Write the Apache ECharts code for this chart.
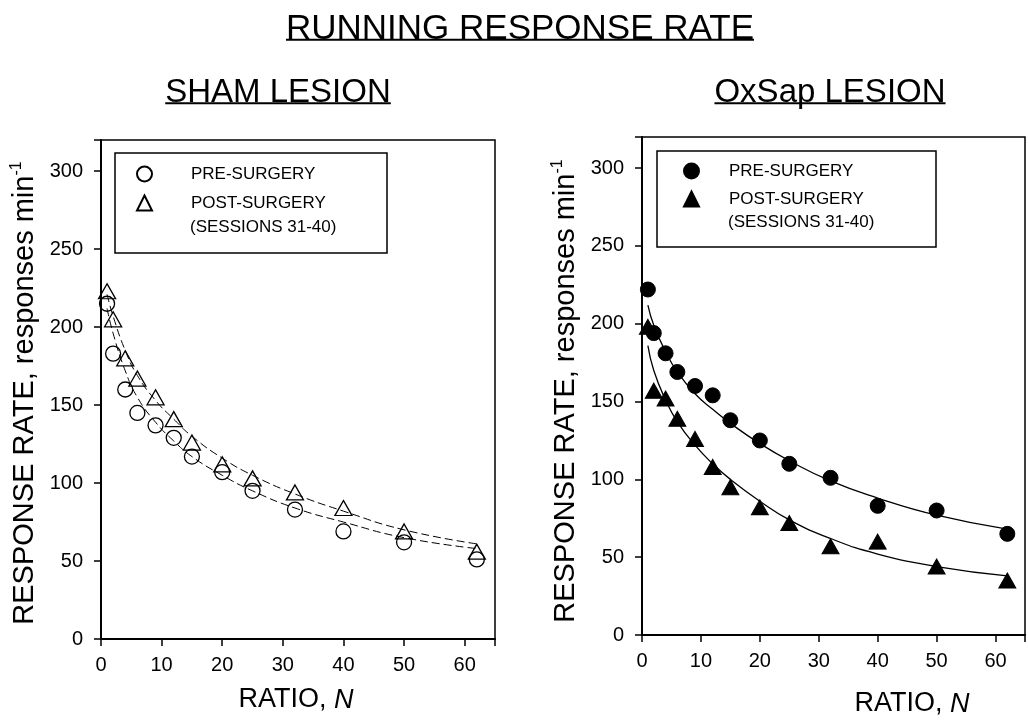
<!DOCTYPE html>
<html>
<head>
<meta charset="utf-8">
<script src="https://cdn.jsdelivr.net/npm/echarts@6/dist/echarts.min.js"></script>
<style>
  html, body { margin: 0; padding: 0; background: #fff; }
  #chart { width: 1028px; height: 727px; }
</style>
</head>
<body>
<div id="chart"></div>
<script>
// Fixed-ratio schedule values (N) shared by both panels
const ratios = [1, 2, 4, 6, 9, 12, 15, 20, 25, 32, 40, 50, 62];

// Sham lesion group: running response rate (responses/min)
const shamPre = [215, 183, 160, 145, 137, 129, 117, 107, 95, 83, 69, 62, 51];
const shamPost = [223, 205, 180, 167, 155, 141, 126, 112, 103, 94, 84, 69, 56];
const shamPreFit = [212, 196, 172, 155, 139, 127, 117, 105, 95, 84, 75, 65, 58];
const shamPostFit = [221, 207, 185, 169, 153, 141, 130, 116, 105, 93, 82, 70, 61];

// OxSap lesion group
const oxPre = [222, 194, 181, 169, 160, 154, 138, 125, 110, 101, 83, 80, 65];
const oxPost = [198, 157, 152, 139, 126, 108, 95, 82, 72, 57, 60, 44, 35];
const oxPreFit = [212, 199, 182, 169, 155, 145, 136, 123, 112, 99, 88, 77, 68];
const oxPostFit = [186, 170, 151, 137, 122, 110, 100, 86, 74, 62, 52, 44, 38];

const xTicks = [0, 10, 20, 30, 40, 50, 60];
const yTicks = [0, 50, 100, 150, 200, 250, 300];

const FONT = '"Liberation Sans", Arial, Helvetica, sans-serif';
const pairs = (ys) => ratios.map((x, i) => [x, ys[i]]);

// text width helper used to size the heading underlines
const measureCtx = document.createElement('canvas').getContext('2d');
function textWidth(text, size) {
  measureCtx.font = size + 'px ' + FONT;
  return measureCtx.measureText(text).width;
}

const chart = echarts.init(document.getElementById('chart'), null, { renderer: 'canvas' });

function xAxisFor(gridIndex) {
  return {
    type: 'value', gridIndex, min: 0, max: 65, interval: 10,
    axisLine: { show: true, onZero: false, lineStyle: { color: '#000', width: 2 } },
    axisTick: { show: true, inside: false, length: 7, lineStyle: { color: '#000', width: 1.5 } },
    axisLabel: {
      color: '#000', fontFamily: FONT, fontSize: 20, margin: 16,
      formatter: (v) => (xTicks.includes(v) ? String(v) : '')
    },
    splitLine: { show: false }
  };
}
function yAxisFor(gridIndex) {
  return {
    type: 'value', gridIndex, min: 0, max: 320, interval: 50,
    axisLine: { show: true, onZero: false, lineStyle: { color: '#000', width: 2 } },
    axisTick: { show: true, inside: false, length: 7, lineStyle: { color: '#000', width: 1.5 } },
    axisLabel: {
      color: '#000', fontFamily: FONT, fontSize: 20, margin: 18,
      formatter: (v) => (yTicks.includes(v) ? String(v) : '')
    },
    splitLine: { show: false }
  };
}

function fitLine(name, data, xi, dashed) {
  return {
    name, type: 'line', xAxisIndex: xi, yAxisIndex: xi,
    data: pairs(data), showSymbol: false, smooth: 0.5,
    silent: true, z: 2,
    lineStyle: { color: '#000', width: dashed ? 1 : 1.3, type: dashed ? [8, 4] : 'solid' }
  };
}
function markers(name, data, xi, symbol, filled) {
  return {
    name, type: 'scatter', xAxisIndex: xi, yAxisIndex: xi,
    data: pairs(data), symbol,
    symbolSize: symbol === 'circle' ? 15 : [17, 15],
    z: 3,
    itemStyle: filled
      ? { color: '#000', borderColor: '#000', borderWidth: 1, opacity: 1 }
      : { color: 'rgba(255,255,255,0)', borderColor: '#000', borderWidth: 1.3, opacity: 1 }
  };
}

function yName(x, yCenter) {
  return {
    type: 'text', x, y: yCenter, rotation: Math.PI / 2,
    style: {
      text: '{m|RESPONSE RATE, responses min}{s|-1}',
      align: 'center', verticalAlign: 'middle',
      rich: {
        m: { fontFamily: FONT, fontSize: 29, fill: '#000', lineHeight: 32 },
        s: { fontFamily: FONT, fontSize: 16, fill: '#000', verticalAlign: 'top', lineHeight: 32, padding: [0, 0, 13, 0] }
      }
    }
  };
}
function xName(x, y) {
  return {
    type: 'text', x, y,
    style: {
      text: '{m|RATIO, }{i|N}', align: 'center', verticalAlign: 'middle',
      rich: {
        m: { fontFamily: FONT, fontSize: 27, fill: '#000' },
        i: { fontFamily: FONT, fontSize: 27, fontStyle: 'italic', fill: '#000' }
      }
    }
  };
}
// centred heading with a rule drawn along its baseline
function heading(text, cx, cy, size) {
  const w = textWidth(text, size);
  const uy = cy + size * 0.31;
  return [
    { type: 'text', x: cx, y: cy, style: { text, fontFamily: FONT, fontSize: size, fill: '#000', align: 'center', verticalAlign: 'middle' } },
    { type: 'line', shape: { x1: cx - w / 2, y1: uy, x2: cx + w / 2, y2: uy }, style: { stroke: '#000', lineWidth: 2 } }
  ];
}
function legendBox(x, y, w, h, tx, ty) {
  return [
    { type: 'rect', shape: { x, y, width: w, height: h }, style: { fill: 'none', stroke: '#000', lineWidth: 1.5 } },
    { type: 'text', x: tx, y: ty, style: { text: '(SESSIONS 31-40)', fontFamily: FONT, fontSize: 17, fill: '#000', align: 'left', verticalAlign: 'middle' } }
  ];
}

const option = {
  backgroundColor: '#fff',
  animation: false,
  textStyle: { fontFamily: FONT },
  grid: [
    { left: 101, right: 533, top: 140, bottom: 88, show: true, borderColor: '#000', borderWidth: 1.5, backgroundColor: 'transparent' },
    { left: 642, right: -6, top: 137, bottom: 92, show: true, borderColor: '#000', borderWidth: 1.5, backgroundColor: 'transparent' }
  ],
  xAxis: [xAxisFor(0), xAxisFor(1)],
  yAxis: [yAxisFor(0), yAxisFor(1)],
  legend: [
    {
      orient: 'vertical', left: 131, top: 160.5, itemWidth: 15, itemHeight: 15, itemGap: 12,
      data: ['PRE-SURGERY', 'POST-SURGERY'],
      textStyle: { color: '#000', fontFamily: FONT, fontSize: 17, padding: [0, 0, 0, 34] },
      selectedMode: false
    },
    {
      orient: 'vertical', left: 678, top: 157.5, itemWidth: 15, itemHeight: 15, itemGap: 11,
      data: ['PRE-SURGERY ', 'POST-SURGERY '],
      textStyle: { color: '#000', fontFamily: FONT, fontSize: 17, padding: [0, 0, 0, 25] },
      selectedMode: false
    }
  ],
  graphic: [
    ...heading('RUNNING RESPONSE RATE', 520, 29, 35),
    ...heading('SHAM LESION', 278, 93, 33),
    ...heading('OxSap LESION', 830, 93, 33),
    ...legendBox(115, 153, 272, 100, 190, 227),
    ...legendBox(657, 151, 279, 96, 728, 222),
    yName(25, 393),
    yName(566, 391),
    xName(296, 700),
    xName(912, 704)
  ],
  series: [
    fitLine('shamPreFit', shamPreFit, 0, true),
    fitLine('shamPostFit', shamPostFit, 0, true),
    markers('PRE-SURGERY', shamPre, 0, 'circle', false),
    markers('POST-SURGERY', shamPost, 0, 'triangle', false),
    fitLine('oxPreFit', oxPreFit, 1, false),
    fitLine('oxPostFit', oxPostFit, 1, false),
    markers('PRE-SURGERY ', oxPre, 1, 'circle', true),
    markers('POST-SURGERY ', oxPost, 1, 'triangle', true)
  ]
};

chart.setOption(option);
</script>
</body>
</html>
